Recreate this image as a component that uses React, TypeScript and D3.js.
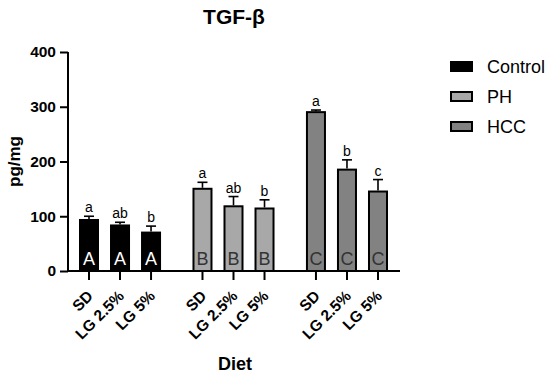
import { useEffect, useRef } from "react";
import * as d3 from "d3";

const groups = ["Control", "PH", "HCC"];
const diets = ["SD", "LG 2.5%", "LG 5%"];
const groupColors = ["#000000", "#a8a8a8", "#828282"];
const groupLetters = ["A", "B", "C"];
const groupLetterColors = ["#ffffff", "#333333", "#333333"];
const means = [
  [95, 85, 72],
  [152, 120, 116],
  [292, 187, 147],
];
const errors = [
  [5, 4, 10],
  [10, 16, 14],
  [2, 16, 20],
];
const sigLetters = [
  ["a", "ab", "b"],
  ["a", "ab", "b"],
  ["a", "b", "c"],
];
const yTicks = [0, 100, 200, 300, 400];

function App() {
  const ref = useRef<SVGSVGElement>(null);

  useEffect(() => {
    const svg = d3.select(ref.current);
    svg.selectAll("*").remove();
    const font = "Liberation Sans, Arial, sans-serif";

    const y = d3.scaleLinear().domain([0, 400]).range([271, 52]);
    const x0 = d3.scaleBand().domain(groups).range([79, 388]).paddingInner(0.277);
    const x1 = d3.scaleBand().domain(diets).range([0, x0.bandwidth()]).paddingInner(0.355);

    const data = groups.flatMap((g, gi) =>
      diets.map((d, di) => ({
        g,
        gi,
        d,
        v: means[gi][di],
        e: errors[gi][di],
        s: sigLetters[gi][di],
      }))
    );
    const bx = (p: any) => (x0(p.g) ?? 0) + (x1(p.d) ?? 0);
    const bw = x1.bandwidth();

    // error bars (upper only)
    const eb = svg.append("g").attr("stroke", "#000").attr("stroke-width", 1.6);
    eb.selectAll(".v")
      .data(data)
      .join("line")
      .attr("x1", (p) => bx(p) + bw / 2)
      .attr("x2", (p) => bx(p) + bw / 2)
      .attr("y1", (p) => y(p.v))
      .attr("y2", (p) => y(p.v + p.e));
    eb.selectAll(".c")
      .data(data)
      .join("line")
      .attr("x1", (p) => bx(p) + bw / 2 - 5)
      .attr("x2", (p) => bx(p) + bw / 2 + 5)
      .attr("y1", (p) => y(p.v + p.e))
      .attr("y2", (p) => y(p.v + p.e));

    // bars
    svg
      .append("g")
      .selectAll("rect")
      .data(data)
      .join("rect")
      .attr("x", (p) => bx(p) + 1)
      .attr("y", (p) => y(p.v) + 1)
      .attr("width", bw - 2)
      .attr("height", (p) => y(0) - y(p.v) - 1)
      .attr("fill", (p) => groupColors[p.gi])
      .attr("stroke", "#000")
      .attr("stroke-width", 2);

    // significance letters
    svg
      .append("g")
      .selectAll("text")
      .data(data)
      .join("text")
      .attr("x", (p) => bx(p) + bw / 2)
      .attr("y", (p) => y(p.v + p.e) - 4)
      .attr("text-anchor", "middle")
      .attr("font-family", font)
      .attr("font-size", 14)
      .text((p) => p.s);

    // group letters inside bars
    svg
      .append("g")
      .selectAll("text")
      .data(data)
      .join("text")
      .attr("x", (p) => bx(p) + bw / 2)
      .attr("y", 265)
      .attr("text-anchor", "middle")
      .attr("font-family", font)
      .attr("font-size", 18)
      .attr("fill", (p) => groupLetterColors[p.gi])
      .text((p) => groupLetters[p.gi]);

    // y axis
    const ya = svg
      .append("g")
      .attr("transform", "translate(68,0)")
      .call(d3.axisLeft(y).tickValues(yTicks).tickSize(8).tickPadding(4));
    ya.select(".domain").attr("stroke-width", 2).attr("d", `M0,${y(400)}V${y(0) + 1}`);
    ya.selectAll(".tick line").attr("stroke-width", 2);
    ya.selectAll(".tick text")
      .attr("font-family", font)
      .attr("font-size", 15.5)
      .attr("font-weight", "bold")
      .attr("fill", "#000");

    // x axis
    const xa = svg.append("g").attr("transform", `translate(0,${y(0)})`);
    xa.append("line")
      .attr("x1", 67)
      .attr("x2", 400)
      .attr("stroke", "#000")
      .attr("stroke-width", 2);
    xa.selectAll(".t")
      .data(data)
      .join("line")
      .attr("x1", (p) => bx(p) + bw / 2)
      .attr("x2", (p) => bx(p) + bw / 2)
      .attr("y1", 0)
      .attr("y2", 9)
      .attr("stroke", "#000")
      .attr("stroke-width", 2);
    xa.selectAll("text")
      .data(data)
      .join("text")
      .attr(
        "transform",
        (p) => `translate(${bx(p) + bw / 2 + 5},${26}) rotate(-45)`
      )
      .attr("text-anchor", "end")
      .attr("font-family", font)
      .attr("font-size", 15.5)
      .attr("font-weight", "bold")
      .text((p) => p.d);

    // titles
    svg
      .append("text")
      .attr("x", 234)
      .attr("y", 24)
      .attr("text-anchor", "middle")
      .attr("font-family", font)
      .attr("font-size", 21)
      .attr("font-weight", "bold")
      .text("TGF-β");
    svg
      .append("text")
      .attr("transform", `translate(20,${y(200)}) rotate(-90)`)
      .attr("text-anchor", "middle")
      .attr("font-family", font)
      .attr("font-size", 17)
      .attr("font-weight", "bold")
      .text("pg/mg");
    svg
      .append("text")
      .attr("x", 235)
      .attr("y", 370)
      .attr("text-anchor", "middle")
      .attr("font-family", font)
      .attr("font-size", 18)
      .attr("font-weight", "bold")
      .text("Diet");

    // legend
    const lg = svg
      .append("g")
      .selectAll("g")
      .data(groups)
      .join("g")
      .attr("transform", (_, i) => `translate(451,${62 + i * 30})`);
    lg.append("rect")
      .attr("width", 21)
      .attr("height", 9)
      .attr("fill", (_, i) => groupColors[i])
      .attr("stroke", "#000")
      .attr("stroke-width", 2);
    lg.append("text")
      .attr("x", 36)
      .attr("y", 11)
      .attr("font-family", font)
      .attr("font-size", 18)
      .text((d) => d);
  }, []);

  return (
    <svg
      ref={ref}
      width={550}
      height={375}
      style={{ position: "absolute", left: 0, top: 0, background: "#fff" }}
    />
  );
}

export default App;
